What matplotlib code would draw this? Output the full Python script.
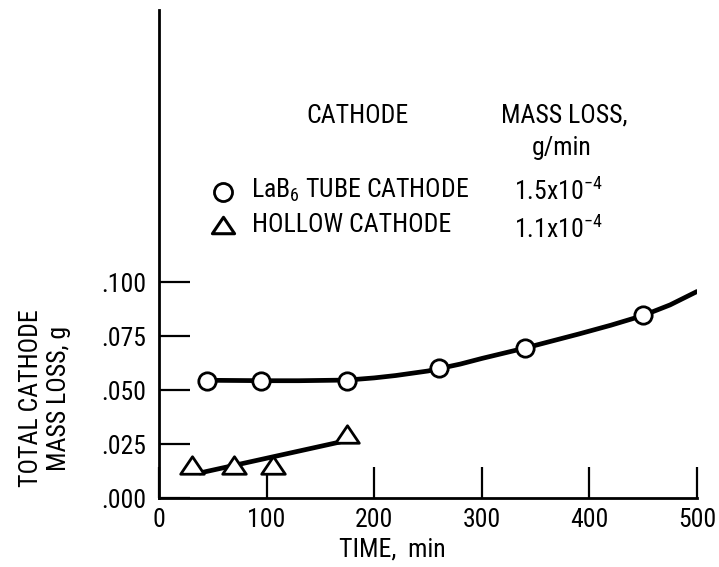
import matplotlib
matplotlib.use("Agg")
import matplotlib.pyplot as plt
from matplotlib.path import Path
from matplotlib import font_manager as fm

# ---- data ----
lab6_time = [45, 95, 175, 260, 340, 450]
lab6_loss = [0.0543, 0.0543, 0.0543, 0.0600, 0.0694, 0.0845]

lab6_curve_time = [45, 100, 130, 175, 200, 220, 250, 280, 300, 320, 340, 360, 390, 420, 450, 475, 500]
lab6_curve_loss = [0.0545, 0.0543, 0.0543, 0.0546, 0.0556, 0.0567, 0.0588, 0.0620, 0.0646, 0.0670,
                   0.0694, 0.0720, 0.0759, 0.0800, 0.0845, 0.0894, 0.0956]

hollow_time = [31, 70, 106, 175]
hollow_loss = [0.0153, 0.0153, 0.0153, 0.0296]

hollow_line_time = [38, 168]
hollow_line_loss = [0.0116, 0.0259]

xticks = [0, 100, 200, 300, 400, 500]
yticks = [0.000, 0.025, 0.050, 0.075, 0.100]
yticklabels = [".000", ".025", ".050", ".075", ".100"]

# pick a condensed sans if one is installed
names = {f.name for f in fm.fontManager.ttflist}
cands = ["Liberation Sans Narrow", "Roboto Condensed", "Open Sans Condensed",
         "DejaVu Sans Condensed", "Noto Sans Condensed"]
main = next((c for c in cands if c in names), "DejaVu Sans")
condensed_dejavu = any(("DejaVuSansCondensed" in f.fname) for f in fm.fontManager.ttflist)

FONT = [main, "DejaVu Sans"]
plt.rcParams["font.family"] = FONT
if main == "DejaVu Sans" and condensed_dejavu:
    plt.rcParams["font.stretch"] = "condensed"
FS = 18.5 if (main != "DejaVu Sans" or condensed_dejavu) else 16
plt.rcParams["mathtext.fontset"] = "custom"
plt.rcParams["mathtext.rm"] = main
plt.rcParams["mathtext.default"] = "rm"

W, H = 719, 567
fig = plt.figure(figsize=(W / 100, H / 100), dpi=100)
ax = fig.add_axes([159 / W, 1 - 498 / H, (697 - 159) / W, (498 - 10) / H])

tri = Path([(0, 0.74), (-1, -0.74), (1, -0.74), (0, 0.74)],
           [Path.MOVETO, Path.LINETO, Path.LINETO, Path.CLOSEPOLY])

ax.plot(lab6_curve_time, lab6_curve_loss, color="black", lw=3.4,
        solid_capstyle="round", solid_joinstyle="round", zorder=2)
ax.plot(hollow_line_time, hollow_line_loss, color="black", lw=3.4,
        solid_capstyle="round", zorder=2)
ax.plot(lab6_time, lab6_loss, linestyle="none", marker="o", ms=12.5,
        mfc="white", mec="black", mew=2.0, zorder=3, clip_on=False)
ax.plot(hollow_time, hollow_loss, linestyle="none", marker=tri, ms=17,
        mfc="white", mec="black", mew=2.0, zorder=3, clip_on=False)

ax.set_xlim(0, 500)
ax.set_ylim(0, (498 - 10) / 2160)
ax.set_xticks(xticks)
ax.set_xticklabels([str(t) for t in xticks])
ax.set_yticks(yticks)
ax.set_yticklabels(yticklabels)
ax.tick_params(direction="in", length=22, width=1.6, labelsize=FS, color="black")
ax.tick_params(axis="y", pad=9)
ax.tick_params(axis="x", pad=7)
for s in ["top", "right"]:
    ax.spines[s].set_visible(False)
for s in ["left", "bottom"]:
    ax.spines[s].set_linewidth(2.0)

# axis labels
fig.text(392 / W, 1 - 550 / H, "TIME,  min", ha="center", va="center", fontsize=FS)
fig.text(45 / W, 1 - 398 / H, "TOTAL CATHODE\nMASS LOSS, g", ha="center", va="center",
         rotation=90, fontsize=FS, linespacing=1.25, multialignment="center")

# key / table
fig.text(358 / W, 1 - 116 / H, "CATHODE", ha="center", va="center", fontsize=FS)
fig.text(564 / W, 1 - 116 / H, "MASS LOSS,", ha="center", va="center", fontsize=FS)
fig.text(562 / W, 1 - 148 / H, "g/min", ha="center", va="center", fontsize=FS)

fig.text(251 / W, 1 - 190 / H, r"LaB$_6$ TUBE CATHODE", ha="left", va="center", fontsize=FS)
fig.text(252 / W, 1 - 225 / H, "HOLLOW CATHODE", ha="left", va="center", fontsize=FS)
fig.text(514 / W, 1 - 200 / H, r"1.5x10$^{-4}$", ha="left", va="baseline", fontsize=FS)
fig.text(514 / W, 1 - 238 / H, r"1.1x10$^{-4}$", ha="left", va="baseline", fontsize=FS)

ax.plot([223 / W], [1 - 192 / H], transform=fig.transFigure, marker="o", ms=13,
        mfc="white", mec="black", mew=2.0, linestyle="none", clip_on=False)
ax.plot([223 / W], [1 - 225 / H], transform=fig.transFigure, marker=tri, ms=16,
        mfc="white", mec="black", mew=2.2, linestyle="none", clip_on=False)

fig.savefig("out.png", dpi=100)
